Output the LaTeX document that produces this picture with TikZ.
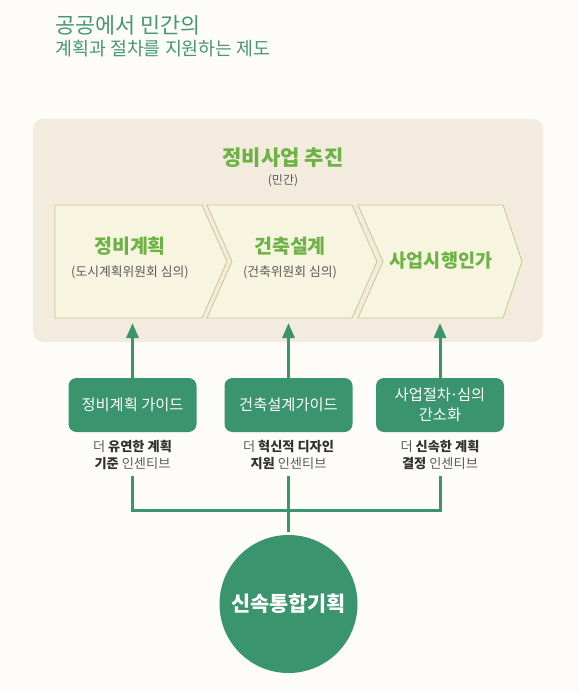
\documentclass[tikz,border=0pt]{standalone}
\usepackage{fontspec}
\setmainfont{Noto Sans CJK KR}
\usetikzlibrary{arrows.meta, positioning, calc}

\definecolor{paper}{RGB}{253,252,249}
\definecolor{headgreen}{RGB}{72,150,116}
\definecolor{deepgreen}{RGB}{58,148,110}
\definecolor{leafgreen}{RGB}{108,178,68}
\definecolor{panelbeige}{RGB}{243,235,222}
\definecolor{chevfill}{RGB}{247,245,224}
\definecolor{chevline}{RGB}{200,200,140}
\definecolor{notegray}{RGB}{90,90,90}
\definecolor{notedark}{RGB}{50,50,50}

\newcommand{\boldpart}[1]{{\bfseries\color{notedark}#1}}
\newcommand{\tightdot}{\hbox to 0.4em{\hss·\hss}}

\begin{document}
\begin{tikzpicture}[
    x=1pt, y=-1pt,
    >={Triangle[width=12pt,length=15pt]}, % 화살표 모양
    % 제목 글꼴
    headline/.style={anchor=base west, inner sep=0pt, text=headgreen},
    % 베이지색 배경 패널
    panel/.style={fill=panelbeige, rounded corners=10pt},
    % 단계 화살표 모양
    chevron/.style={fill=chevfill, draw=chevline, line width=0.8pt},
    stage/.style={font=\fontsize{19.5}{22}\selectfont\bfseries, text=leafgreen},
    stagenote/.style={font=\fontsize{12.8}{15}\selectfont, text=notegray},
    % 초록색 가이드 상자
    guide/.style={rectangle, rounded corners=8pt, fill=deepgreen, text=white,
        minimum width=128pt, minimum height=54pt, align=center,
        font=\fontsize{15.3}{20}\selectfont},
    incentive/.style={align=center, inner sep=0pt, text=notegray,
        font=\fontsize{13.2}{16.5}\selectfont},
    hubnode/.style={circle, fill=deepgreen, minimum size=138pt, text=white,
        font=\fontsize{20.8}{24}\selectfont\bfseries},
    link/.style={draw=deepgreen, line width=3pt}
]

% 0. 배경
\fill[paper] (0,0) rectangle (579,692);

% 1. 제목
\node[headline, font=\fontsize{21.8}{26}\selectfont] (title) at (55,33.5) {공공에서 민간의};
\node[headline, font=\fontsize{18.4}{22}\selectfont] (subtitle) at (55,56) {계획과 절차를 지원하는 제도};

% 2. 정비사업 추진 패널
\fill[panel] (33,119) rectangle (543,342);
\node[stage, font=\fontsize{21}{24}\selectfont\bfseries] (drive) at (283,158) {정비사업 추진};
\node[stagenote, font=\fontsize{12}{14}\selectfont] (private) at (283,181) {(민간)};

% 단계 화살표
\draw[chevron] (55,205) -- (202,205) -- (227,261.5) -- (202,318) -- (55,318) -- cycle;
\draw[chevron] (207,205) -- (352,205) -- (377,261.5) -- (352,318) -- (207,318) -- (232,261.5) -- cycle;
\draw[chevron] (358,205) -- (503,205) -- (522,261.5) -- (503,318) -- (358,318) -- (383,261.5) -- cycle;

\node[stage] (plan) at (130,246) {정비계획};
\node[stagenote] (plannote) at (130,272) {(도시계획위원회 심의)};
\node[stage] (design) at (290,246) {건축설계};
\node[stagenote] (designnote) at (290,272) {(건축위원회 심의)};
\node[stage, font=\fontsize{18.5}{22}\selectfont\bfseries] (permit) at (441,261) {사업시행인가};

\coordinate (panelfoot) at (0,323);

% 3. 가이드 상자와 인센티브
\node[guide] (guide1) at (132.5,405) {정비계획 가이드};
\node[guide] (guide2) at (288.5,405) {건축설계가이드};
\node[guide] (guide3) at (440,405) {사업절차\tightdot 심의\\간소화};

\node[incentive] (note1) at (132.5,455) {더 \boldpart{유연한 계획}\\\boldpart{기준} 인센티브};
\node[incentive] (note2) at (288.5,455) {더 \boldpart{혁신적 디자인}\\\boldpart{지원} 인센티브};
\node[incentive] (note3) at (440,455) {더 \boldpart{신속한 계획}\\\boldpart{결정} 인센티브};

\draw[->, link] (guide1.north) -- (guide1.north |- panelfoot);
\draw[->, link] (guide2.north) -- (guide2.north |- panelfoot);
\draw[->, link] (guide3.north) -- (guide3.north |- panelfoot);

% 4. 신속통합기획
\node[hubnode] (hub) at (288.5,604) {신속통합기획};
\coordinate (bus) at (288.5,510);

\draw[link] ([yshift=-6pt]note1.south) |- (bus) -| ([yshift=-6pt]note3.south);
\draw[link, shorten >=3pt] ([yshift=-6pt]note2.south) -- (hub.north);

\end{tikzpicture}
\end{document}
